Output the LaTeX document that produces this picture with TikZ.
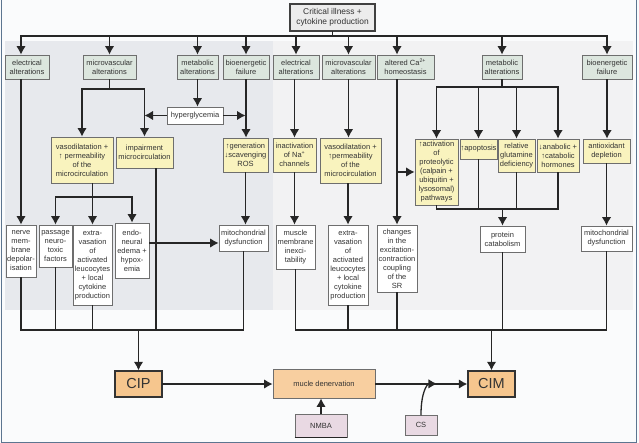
\documentclass[tikz,border=0pt]{standalone}
\usepackage{fontspec}
\setmainfont{Liberation Sans}
\usetikzlibrary{calc, arrows.meta}
\definecolor{bg}{HTML}{FAFBFC}
\definecolor{lpanel}{HTML}{E7E9ED}
\definecolor{rpanel}{HTML}{F2F2F3}
\definecolor{frame}{HTML}{5C7590}
\definecolor{gfill}{HTML}{DCE6DE}
\definecolor{yfill}{HTML}{F9F3BE}
\definecolor{cfill}{HTML}{ECECEC}
\definecolor{ofill}{HTML}{F6C68E}
\definecolor{mfill}{HTML}{F8CFA0}
\definecolor{pfill}{HTML}{E9D9E3}
\definecolor{boxgray}{HTML}{6E6E6E}
\definecolor{txt}{HTML}{333333}

\begin{document}
\begin{tikzpicture}[x=1pt,y=-1pt,inner sep=.4pt,>={Latex[length=8.5pt,width=9.5pt]},line width=1.3pt,line cap=rect,draw=black!85,
  box/.style={draw=boxgray,line width=.8pt,align=center,text=txt,font=\fontsize{7.5}{9}\selectfont},
  gbox/.style={box,fill=gfill},
  ybox/.style={box,fill=yfill},
  wbox/.style={box,fill=white},
  pbox/.style={box,fill=pfill},
  obox/.style={draw=black!80,line width=1.4pt,fill=ofill,text=txt,font=\fontsize{14.5}{16}\selectfont}]
\useasboundingbox (0,0) rectangle (639,443);
\fill[bg] (0,0) rectangle (639,443);
\fill[lpanel] (5,41) rectangle (273,310);
\fill[rpanel] (273,41) rectangle (633,310);
\draw[frame,line width=1pt,line cap=butt] (1,0) -- (1,442) -- (636,442) -- (636,0);

\draw node [box,fill=cfill,draw=black!75,line width=1.3pt,font=\fontsize{8.4}{10}\selectfont,minimum width=85,minimum height=27] (crit) at (332.5,17.5) {Critical illness +\\cytokine production};

\draw node [gbox,minimum width=44,minimum height=24] (ea1) at (27,67)    {electrical\\alterations};
\draw node [gbox,minimum width=53,minimum height=24] (mv1) at (109.5,67) {microvascular\\alterations};
\draw node [gbox,minimum width=41,minimum height=24] (ma1) at (197.5,67) {metabolic\\alterations};
\draw node [gbox,minimum width=46,minimum height=24] (bf1) at (246,67)   {bioenergetic\\failure};
\draw node [gbox,minimum width=46,minimum height=24] (ea2) at (296,67)   {electrical\\alterations};
\draw node [gbox,minimum width=53,minimum height=24] (mv2) at (348.5,67) {microvascular\\alterations};
\draw node [gbox,minimum width=57,minimum height=24] (ca2) at (405.5,67) {altered Ca\textsuperscript{2+}\\homeostasis};
\draw node [gbox,minimum width=40,minimum height=24] (ma2) at (502,67)   {metabolic\\alterations};
\draw node [gbox,minimum width=50,minimum height=24] (bf2) at (607,67)   {bioenergetic\\failure};

\draw node [wbox,minimum width=56,minimum height=17] (hg) at (195,115.5) {hyperglycemia};

\draw node [ybox,minimum width=62,minimum height=46] (vd1) at (82,160)     {vasodilatation +\\↑ permeability\\of the\\microcirculation};
\draw node [ybox,minimum width=57,minimum height=31] (im1) at (144.5,152.5) {impairment\\microcirculation};
\draw node [ybox,minimum width=45,minimum height=34] (ros) at (245.5,155)   {↑generation\\↓scavenging\\ROS};
\draw node [ybox,minimum width=43,minimum height=34] (na2) at (294.5,155)   {inactivation\\of Na\textsuperscript{+}\\channels};
\draw node [ybox,minimum width=61,minimum height=45] (vd2) at (350.5,160.5) {vasodilatation +\\↑permeability\\of the\\microcirculation};
\draw node [ybox,minimum width=43,minimum height=66] (pr2) at (436.5,172)   {↑activation\\of\\proteolytic\\(calpain +\\ubiquitin +\\lysosomal)\\pathways};
\draw node [ybox,minimum width=37,minimum height=20] (ap2) at (478.5,149)   {↑apoptosis};
\draw node [ybox,minimum width=37,minimum height=33] (gl2) at (516.5,155.5) {relative\\glutamine\\deficiency};
\draw node [ybox,minimum width=42,minimum height=33] (ho2) at (558,155.5)   {↓anabolic +\\↑catabolic\\hormones};
\draw node [ybox,minimum width=47,minimum height=24] (ad2) at (606.5,151)   {antioxidant\\depletion};

\draw node [wbox,minimum width=30,minimum height=52] (nm1) at (21,251)     {nerve\\mem-\\brane\\depolar-\\isation};
\draw node [wbox,minimum width=33,minimum height=42] (pa1) at (55.5,246)   {passage\\neuro-\\toxic\\factors};
\draw node [wbox,minimum width=39,minimum height=80] (ex1) at (92.5,265)   {extra-\\vasation\\of\\activated\\leucocytes\\+ local\\cytokine\\production};
\draw node [wbox,minimum width=34,minimum height=55] (en1) at (132,250.5)  {endo-\\neural\\edema +\\hypox-\\emia};
\draw node [wbox,minimum width=49,minimum height=26] (md1) at (243.5,238)  {mitochondrial\\dysfunction};
\draw node [wbox,minimum width=39,minimum height=44] (mm2) at (295.5,247)  {muscle\\membrane\\inexci-\\tability};
\draw node [wbox,minimum width=40,minimum height=80] (ex2) at (348,265)    {extra-\\vasation\\of\\activated\\leucocytes\\+ local\\cytokine\\production};
\draw node [wbox,minimum width=40,minimum height=67] (ch2) at (397,258.5)  {changes\\in the\\excitation-\\contraction\\coupling\\of the\\SR};
\draw node [wbox,minimum width=45,minimum height=26] (pc2) at (502.5,239)  {protein\\catabolism};
\draw node [wbox,minimum width=51,minimum height=25] (md2) at (606.5,238.5) {mitochondrial\\dysfunction};

\draw node [obox,minimum width=47,minimum height=26] (cip) at (138.5,384) {CIP};
\draw node [obox,minimum width=47,minimum height=26] (cim) at (491.5,384) {CIM};
\draw node [box,fill=mfill,minimum width=102,minimum height=29] (mden) at (324,383.5) {mucle denervation};
\draw node [pbox,minimum width=52,minimum height=23] (nmba) at (321,425.5) {NMBA};
\draw node [pbox,minimum width=32,minimum height=20] (cs) at (421,425) {CS};
\draw [line width=1.6pt,line cap=butt] (nmba.south west) -- (nmba.south east);

\coordinate (bus) at (0,36);
\coordinate (br1) at (0,89);
\coordinate (br2) at (0,87);
\coordinate (br3) at (0,197);
\coordinate (br4) at (0,209);
\coordinate (ml) at (0,330);
\coordinate (mdin) at ($(md1.west)+(0,5)$);
\coordinate (imb) at ($(im1.south)!.4!(im1.south east)$);
\coordinate (jn) at ($(mden.east)!.67!(cim.west)$);

\draw (crit.south) -- (crit.south |- bus);
\draw (nm1.north |- bus) -- (bf2.north |- bus);
\draw [->] (nm1.north |- bus) -- (nm1.north |- ea1.north);
\draw [->] (ch2.north |- bus) -- (ch2.north |- ca2.north);
\foreach \n in {mv1,ma1,bf1,ea2,mv2,ma2,bf2}
  \draw [->] (\n.north |- bus) -- (\n.north);

\draw [->] (nm1.north |- ea1.south) -- (nm1.north);
\draw (mv1.south) -- (mv1.south |- br1);
\draw (vd1.north |- br1) -- (im1.north |- br1);
\draw [->] (vd1.north |- br1) -- (vd1.north);
\draw [->] (im1.north |- br1) -- (im1.north);
\draw [->] (ma1.south) -- (ma1.south |- hg.north);
\draw [->] (hg.west) -- (im1.north |- hg.west);
\draw [->] (hg.east) -- (ros.north |- hg.east);
\draw [->] (bf1.south) -- (bf1.south |- ros.north);
\draw (ex1.north |- vd1.south) -- (ex1.north |- br3);
\draw (pa1.north |- br3) -- (en1.north |- br3);
\foreach \n in {pa1,ex1,en1}
  \draw [->] (\n.north |- br3) -- (\n.north);
\draw [->] (ros.south) -- (ros.south |- md1.north);
\draw [->] (en1.east |- mdin) -- (mdin);
\draw (imb) -- (imb |- ml);
\foreach \n in {pa1,ex1}
  \draw (\n.south) -- (\n.south |- ml);
\draw (nm1.south) |- (md1.south |- ml) -- (md1.south);
\draw [->] (cip.north |- ml) -- (cip.north);

\draw [->] (na2.north |- ea2.south) -- (na2.north);
\draw [->] (na2.south) -- (na2.south |- mm2.north);
\draw [->] (mv2.south) -- (mv2.south |- vd2.north);
\draw [->] (ex2.north |- vd2.south) -- (ex2.north);
\draw [->] (ch2.north |- ca2.south) -- (ch2.north);
\draw [->] (ch2.north |- pr2.west) -- (pr2.west);
\draw (ma2.south) -- (ma2.south |- br2);
\draw (pr2.north |- br2) -- (ho2.north |- br2);
\foreach \n in {pr2,ap2,gl2,ho2}
  \draw [->] (\n.north |- br2) -- (\n.north);
\draw [->] (bf2.south) -- (bf2.south |- ad2.north);
\draw [->] (ad2.south) -- (ad2.south |- md2.north);
\foreach \n in {ap2,gl2}
  \draw (\n.south) -- (\n.south |- br4);
\draw (pr2.south) |- (ho2.south |- br4) -- (ho2.south);
\draw [->] (pc2.north |- br4) -- (pc2.north);
\foreach \n in {ex2,ch2,pc2}
  \draw (\n.south) -- (\n.south |- ml);
\draw (mm2.south) |- (md2.south |- ml) -- (md2.south);
\draw [->] (cim.north |- ml) -- (cim.north);

\draw [->] (cip.east) -- (mden.west |- cip.east);
\draw [->] (mden.east |- cim.west) -- (cim.west);
\draw [->] (nmba.north) -- (nmba.north |- mden.south);
\draw [->] (cs.north) .. controls ($(cs.north)+(0,-22)$) and ($(jn)+(-10,0)$) .. (jn);
\end{tikzpicture}
\end{document}
